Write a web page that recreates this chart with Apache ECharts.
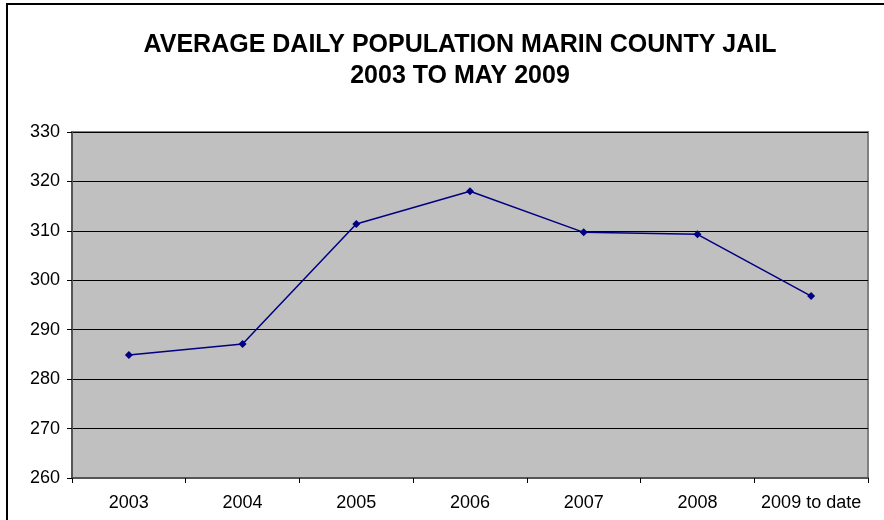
<!DOCTYPE html>
<html>
<head>
<meta charset="utf-8">
<script src="https://cdn.jsdelivr.net/npm/echarts@6/dist/echarts.min.js"></script>
<style>
  html, body { margin: 0; padding: 0; background: #fff; }
  #chart { width: 884px; height: 520px; }
</style>
</head>
<body>
<div id="chart"></div>
<script>
// data
var years = ['2003', '2004', '2005', '2006', '2007', '2008', '2009 to date']
var population = [284.9, 287.1, 311.4, 318.0, 309.7, 309.3, 296.8]
var yMin = 260
var yMax = 330
var yStep = 10

var chart = echarts.init(document.getElementById('chart'))
chart.setOption({
  animation: false,
  backgroundColor: '#fff',
  textStyle: { fontFamily: 'Liberation Sans, Arial, sans-serif' },
  title: {
    text: 'AVERAGE DAILY POPULATION MARIN COUNTY JAIL\n2003 TO MAY 2009',
    left: 455,
    top: 25,
    textAlign: 'center',
    textStyle: {
      fontSize: 25,
      fontWeight: 'bold',
      color: '#000',
      lineHeight: 31,
      fontFamily: 'Liberation Sans, Arial, sans-serif'
    }
  },
  graphic: [{
    type: 'rect',
    shape: { x: 7, y: 4, width: 1000, height: 1000 },
    style: { fill: 'none', stroke: '#000', lineWidth: 2 },
    silent: true
  }],
  grid: {
    left: 72,
    right: 16,
    top: 132,
    bottom: 42,
    show: true,
    backgroundColor: '#c0c0c0',
    borderColor: '#808080',
    borderWidth: 2
  },
  xAxis: {
    type: 'category',
    data: years,
    boundaryGap: true,
    axisLine: { lineStyle: { color: '#555', width: 2 } },
    axisTick: { show: true, length: 5, lineStyle: { color: '#000' } },
    axisLabel: { color: '#000', fontSize: 18, margin: 16, interval: 0 },
    splitLine: { show: false }
  },
  yAxis: {
    type: 'value',
    min: yMin,
    max: yMax,
    interval: yStep,
    axisLine: { show: true, lineStyle: { color: '#555', width: 2 } },
    axisTick: { show: true, length: 5, lineStyle: { color: '#000' } },
    axisLabel: { color: '#000', fontSize: 18, margin: 12 },
    splitLine: { show: true, lineStyle: { color: '#000', width: 1 } }
  },
  series: [{
    type: 'line',
    data: population,
    symbol: 'diamond',
    symbolSize: 8,
    lineStyle: { color: '#000080', width: 1.5 },
    itemStyle: { color: '#000080' }
  }]
})
</script>
</body>
</html>
